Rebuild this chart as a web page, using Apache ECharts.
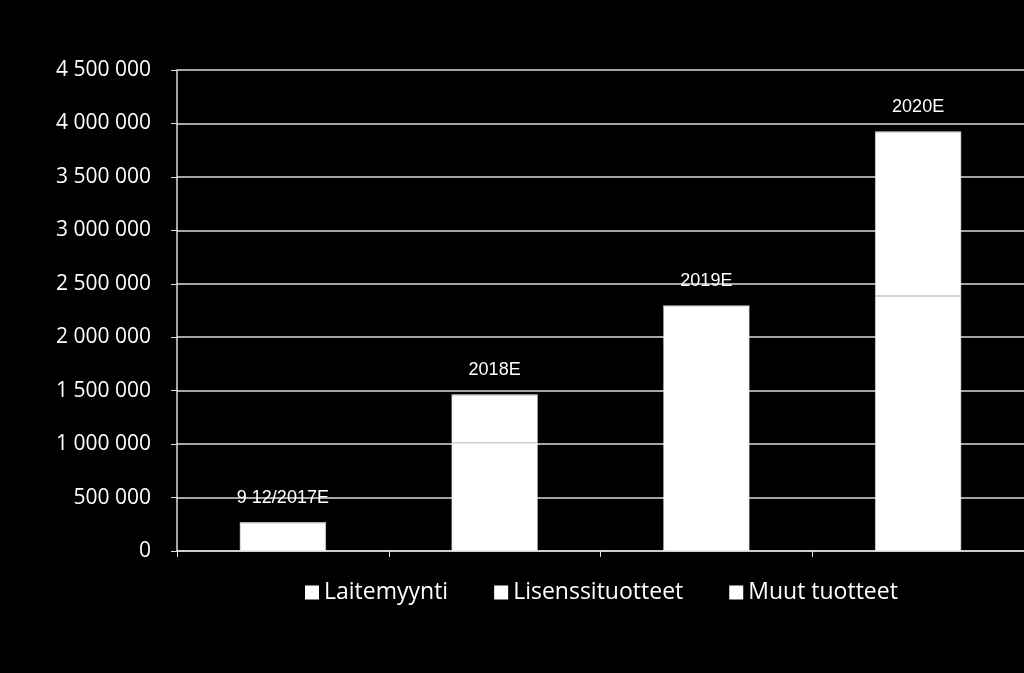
<!DOCTYPE html>
<html><head><meta charset="utf-8">
<script src="https://cdn.jsdelivr.net/npm/echarts@6/dist/echarts.min.js"></script>
<style>html,body{margin:0;background:#000}#c{width:1024px;height:673px}</style>
</head><body><div id="c"></div>
<script>
const categories = ['9 12/2017E', '2018E', '2019E', '2020E'];
const laitemyynti = [262000, 1010000, 2290000, 2385000];
const lisenssituotteet = [0, 450000, 0, 1535000];
const muutTuotteet = [0, 0, 0, 0];
const seriesNames = ['Laitemyynti', 'Lisenssituotteet', 'Muut tuotteet'];
const font = '"Open Sans", Lato, sans-serif';
const chart = echarts.init(document.getElementById('c'));
function s(name, data, last) {
  return {
    name, type: 'bar', stack: 'a', data, barWidth: 86,
    itemStyle: { color: '#fff', borderColor: '#e4e4e4', borderWidth: 0.6 },
    label: last ? { show: true, position: 'top', distance: 16, color: '#fff', fontSize: 18, fontFamily: 'Arial, Liberation Sans',
      formatter: p => categories[p.dataIndex] } : { show: false }
  };
}
chart.setOption({
  backgroundColor: '#000',
  animation: false,
  grid: { left: 177, right: -34, top: 70, bottom: 122 },
  legend: {
    bottom: 64, left: 300, itemWidth: 14, itemHeight: 14, itemGap: 46, icon: 'rect',
    textStyle: { color: '#fff', fontSize: 23, fontFamily: font },
    data: seriesNames.map(n => ({ name: n, itemStyle: { color: '#fff', borderWidth: 0 } }))
  },
  xAxis: {
    type: 'category', data: categories,
    axisLine: { lineStyle: { color: '#ddd', width: 1.5 } },
    axisTick: { show: true, length: 6, lineStyle: { color: '#ddd' } },
    axisLabel: { show: false }
  },
  yAxis: {
    type: 'value', min: 0, max: 4500000, interval: 500000,
    axisLine: { show: true, lineStyle: { color: '#ddd', width: 1.5 } },
    axisTick: { show: true, length: 6, lineStyle: { color: '#ddd' } },
    splitLine: { lineStyle: { color: '#ddd', width: 1.5 } },
    axisLabel: { color: '#fff', fontSize: 21, fontFamily: font, margin: 26,
      formatter: v => String(v).replace(/\B(?=(\d{3})+(?!\d))/g, ' ') }
  },
  series: [
    s(seriesNames[0], laitemyynti, false),
    s(seriesNames[1], lisenssituotteet, false),
    s(seriesNames[2], muutTuotteet, true)
  ]
});
</script></body></html>
